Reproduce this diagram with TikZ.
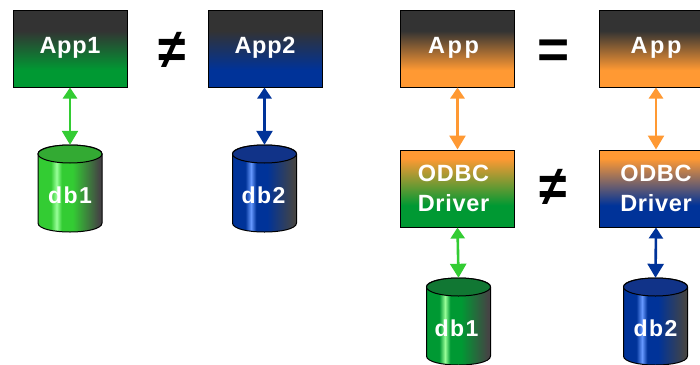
\documentclass[tikz,border=0pt]{standalone}
\usepackage{fontspec}
\setmainfont{Liberation Sans}
\newfontfamily\boxfont[LetterSpace=3]{Liberation Sans Bold}
\newfontfamily\wideboxfont[LetterSpace=11]{Liberation Sans Bold}
\newfontfamily\dbfont[LetterSpace=6]{Liberation Sans Bold}
\usetikzlibrary{arrows.meta}
\definecolor{cdark}{HTML}{333333}
\definecolor{cgrey}{HTML}{444444}
\definecolor{cgreen}{HTML}{009933}
\definecolor{cblue}{HTML}{003399}
\definecolor{corange}{HTML}{FF9933}
\definecolor{clime}{HTML}{33CC33}
\definecolor{hlgreen}{HTML}{99FF99}
\definecolor{hlblue}{HTML}{6699FF}
\definecolor{toplime}{HTML}{33AA33}
\definecolor{topgreen}{HTML}{117733}
\definecolor{topblue}{HTML}{113388}
\pgfdeclareverticalshading{appgreen}{100bp}{color(0bp)=(cgreen);color(36bp)=(cgreen);color(61.5bp)=(cdark);color(100bp)=(cdark)}
\pgfdeclareverticalshading{appblue}{100bp}{color(0bp)=(cblue);color(36bp)=(cblue);color(61.5bp)=(cdark);color(100bp)=(cdark)}
\pgfdeclareverticalshading{apporange}{100bp}{color(0bp)=(corange);color(36bp)=(corange);color(61.5bp)=(cdark);color(100bp)=(cdark)}
\pgfdeclareverticalshading{drvgreen}{100bp}{color(0bp)=(cgreen);color(39bp)=(cgreen);color(69.5bp)=(corange);color(100bp)=(corange)}
\pgfdeclareverticalshading{drvblue}{100bp}{color(0bp)=(cblue);color(39bp)=(cblue);color(69.5bp)=(corange);color(100bp)=(corange)}
\pgfdeclarehorizontalshading{cyllime}{100bp}{color(0bp)=(clime);color(35bp)=(clime);color(39.5bp)=(hlgreen);color(43.5bp)=(clime);color(52bp)=(clime);color(73bp)=(cgrey);color(100bp)=(cgrey)}
\pgfdeclarehorizontalshading{cylgreen}{100bp}{color(0bp)=(cgreen);color(35bp)=(cgreen);color(39.5bp)=(hlgreen);color(43.5bp)=(cgreen);color(52bp)=(cgreen);color(73bp)=(cgrey);color(100bp)=(cgrey)}
\pgfdeclarehorizontalshading{cylblue}{100bp}{color(0bp)=(cblue);color(35bp)=(cblue);color(39.5bp)=(hlblue);color(43.5bp)=(cblue);color(52bp)=(cblue);color(73bp)=(cgrey);color(100bp)=(cgrey)}
\tikzset{
  boxnode/.style={draw=black,line width=1pt,minimum width=114pt,minimum height=77pt,inner sep=0pt,
    text=white,align=center},
  appbox/.style={boxnode,shading=#1,font=\boxfont\fontsize{23.5}{30}\selectfont,text depth=6pt},
  wideappbox/.style={boxnode,shading=#1,font=\wideboxfont\fontsize{23.5}{30}\selectfont,text depth=6pt},
  drvbox/.style={boxnode,shading=#1,font=\boxfont\fontsize{23.5}{30}\selectfont},
  dblabel/.style={text=white,font=\dbfont\fontsize{23}{24}\selectfont,inner sep=0pt,minimum width=64pt,minimum height=87pt,text height=30pt,text depth=0pt},
  link/.style={line width=2.6pt,color=#1,{Triangle[width=14pt,length=11pt]}-{Triangle[width=16pt,length=14pt]}},
  relsym/.style={font=\bfseries\fontsize{50}{50}\selectfont,text=black,inner sep=0pt},
  eqsym/.style={font=\bfseries\fontsize{55}{55}\selectfont,text=black,inner sep=0pt},
}
% #1 name, #2 centre x, #3 top y of the cap, #4 body shading, #5 cap colour, #6 text
\newcommand{\dbcyl}[7]{%
  \path[shading=#4,draw=black,line width=1pt]
    (#2-32,#3+9) -- (#2-32,#3+78) .. controls (#2-32,#3+90) and (#2+32,#3+90) .. (#2+32,#3+78)
    -- (#2+32,#3+9) .. controls (#2+32,#3-3) and (#2-32,#3-3) .. (#2-32,#3+9) -- cycle;
  \path[fill=#5,draw=black,line width=1pt] (#2,#3+9) ellipse[x radius=32,y radius=9];
  \node[dblabel] (#1) at (#2,#3+43.5) {\hspace*{#7}#6};
}
\begin{document}
\begin{tikzpicture}[x=1pt,y=-1pt]
\useasboundingbox (0,0) rectangle (700,364);
\clip (0,0) rectangle (700,364);
\node[appbox=appgreen] (app1) at (70,48.5) {App1};
\node[appbox=appblue] (app2) at (265,48.5) {App2};
\node[wideappbox=apporange] (appl) at (457.5,48.5) {\hspace*{-8pt}App};
\node[wideappbox=apporange] (appr) at (656,48.5) {App};
\node[drvbox=drvgreen] (drvl) at (457.5,188.5) {\hspace*{-8pt}ODBC\\\hspace*{-8pt}Driver};
\node[drvbox=drvblue] (drvr) at (656,188.5) {ODBC\\Driver};
\dbcyl{db1a}{70}{145}{cyllime}{toplime}{db1}{0pt}
\dbcyl{db2a}{264.5}{145}{cylblue}{topblue}{db2}{-2pt}
\dbcyl{db1b}{458.5}{278}{cylgreen}{topgreen}{db1}{-4pt}
\dbcyl{db2b}{655.5}{278}{cylblue}{topblue}{db2}{0pt}
\draw[link=clime] (app1.south) -- (db1a.north);
\draw[link=cblue] (app2.south -| db2a.north) -- (db2a.north);
\draw[link=corange] (appl.south) -- (drvl.north);
\draw[link=corange] (appr.south) -- (drvr.north);
\draw[link=clime] (drvl.south) -- (db1b.north);
\draw[link=cblue] (drvr.south) -- (db2b.north);
\node[relsym] (ne1) at (172.5,50) {\scalebox{1}[1.12]{≠}};
\node[eqsym] (eq1) at (553.5,54) {=};
\node[relsym] (ne2) at (553.5,187) {\scalebox{1}[1.12]{≠}};
\end{tikzpicture}
\end{document}
